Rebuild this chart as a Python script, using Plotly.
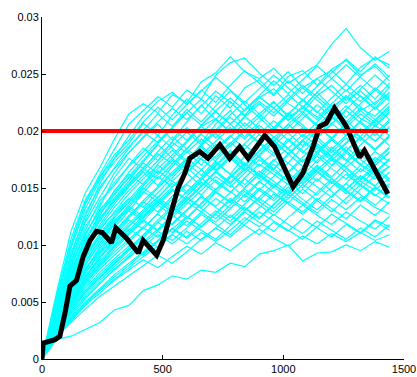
import plotly.graph_objects as go

# x grid of the simulated runs (cyan)
run_x = [0, 60, 120, 180, 240, 300, 360, 420, 480, 540, 600, 660, 720, 780, 840,
         900, 960, 1020, 1080, 1140, 1200, 1260, 1320, 1380, 1440]

# cyan runs, values in thousandths (x 1e-3)
run_01 = [0, 5.8, 11.2, 14.6, 16.8, 19.3, 21.5, 22.4, 21.6, 23.2, 22.5, 24.3, 25.1, 26.5, 25.2, 24.6, 25.5, 24.2, 25.0, 25.8, 27.6, 29.0, 27.3, 26.2, 27.0]
run_02 = [0, 5.2, 10.1, 13.8, 16.2, 18.4, 20.6, 21.8, 23.0, 22.1, 23.6, 22.8, 24.9, 26.0, 26.4, 25.1, 24.0, 25.2, 23.8, 24.6, 25.3, 24.1, 25.6, 26.4, 25.8]
run_03 = [0, 4.6, 9.3, 12.5, 15.4, 17.6, 18.9, 20.7, 19.6, 21.4, 22.8, 21.5, 23.1, 22.0, 23.8, 24.5, 23.2, 24.8, 25.3, 24.0, 25.4, 26.2, 24.9, 25.7, 24.4]
run_04 = [0, 4.9, 8.6, 12.0, 14.2, 16.3, 18.1, 19.4, 20.6, 19.2, 20.8, 22.3, 21.0, 22.6, 21.3, 22.9, 23.7, 22.4, 21.6, 23.1, 24.0, 22.7, 23.5, 22.3, 23.9]
run_05 = [0, 4.2, 8.0, 11.3, 13.9, 15.2, 17.0, 18.5, 17.4, 19.1, 20.3, 19.0, 20.6, 21.8, 20.4, 21.5, 22.6, 21.2, 22.0, 23.4, 22.1, 23.0, 21.8, 22.5, 23.3]
run_06 = [0, 3.8, 7.4, 10.6, 12.6, 14.8, 16.2, 15.3, 17.1, 18.3, 17.2, 18.9, 19.8, 18.6, 20.1, 21.2, 20.0, 21.4, 20.3, 19.5, 21.0, 22.2, 21.1, 20.4, 21.6]
run_07 = [0, 4.4, 7.9, 10.2, 12.9, 14.1, 15.6, 17.3, 18.8, 17.6, 19.0, 20.4, 21.1, 19.9, 21.3, 20.2, 19.1, 20.6, 21.7, 20.5, 19.3, 20.8, 22.0, 21.3, 22.5]
run_08 = [0, 3.5, 6.9, 9.4, 11.8, 13.6, 15.1, 16.4, 15.2, 16.9, 18.2, 17.0, 18.5, 19.6, 18.4, 19.7, 20.9, 19.8, 18.7, 20.1, 21.3, 20.0, 19.2, 20.5, 19.6]
run_09 = [0, 3.9, 7.1, 9.8, 11.3, 12.9, 14.5, 15.8, 17.0, 16.1, 17.5, 18.6, 17.3, 16.2, 17.8, 19.0, 18.1, 17.2, 18.6, 19.5, 18.3, 17.4, 18.8, 19.9, 18.7]
run_10 = [0, 3.2, 6.4, 8.8, 10.9, 12.4, 13.7, 15.0, 14.1, 15.6, 16.8, 15.7, 17.0, 18.3, 17.1, 16.0, 17.4, 18.5, 17.3, 18.7, 17.6, 16.8, 17.9, 17.0, 18.1]
run_11 = [0, 3.6, 6.1, 8.3, 10.1, 11.8, 13.2, 12.3, 13.9, 15.1, 16.3, 15.2, 16.5, 17.7, 16.6, 17.9, 19.2, 18.0, 16.9, 18.2, 19.4, 18.3, 17.1, 16.3, 17.5]
run_12 = [0, 2.9, 5.7, 7.9, 9.7, 11.2, 12.6, 13.8, 12.9, 14.3, 15.4, 16.6, 15.5, 14.6, 15.9, 17.1, 16.2, 15.3, 16.6, 17.8, 16.7, 15.8, 17.0, 16.1, 16.9]
run_13 = [0, 3.3, 5.9, 7.6, 9.2, 10.6, 11.9, 13.1, 14.2, 13.3, 14.7, 15.9, 14.8, 16.0, 17.2, 16.1, 15.0, 16.3, 17.5, 16.4, 15.4, 16.7, 15.6, 14.8, 15.9]
run_14 = [0, 2.7, 5.2, 7.3, 8.9, 10.2, 11.4, 10.6, 12.0, 13.2, 12.3, 13.6, 14.7, 13.8, 15.0, 16.2, 15.1, 14.1, 15.3, 16.5, 15.5, 14.5, 15.7, 16.8, 15.8]
run_15 = [0, 3.0, 5.5, 7.0, 8.4, 9.8, 11.0, 12.2, 11.3, 12.6, 13.8, 12.9, 14.1, 13.2, 14.4, 15.6, 14.6, 13.7, 14.9, 13.9, 15.1, 16.2, 15.2, 14.3, 15.4]
run_16 = [0, 2.5, 4.8, 6.7, 8.1, 9.4, 10.5, 11.6, 12.7, 11.8, 13.0, 14.2, 13.3, 12.4, 13.6, 14.8, 13.9, 15.1, 14.0, 13.1, 14.3, 15.4, 14.4, 13.5, 14.6]
run_17 = [0, 2.2, 4.5, 6.2, 7.6, 8.8, 9.9, 9.1, 10.4, 11.5, 10.7, 11.9, 13.0, 12.1, 13.3, 12.4, 13.6, 14.7, 13.7, 12.8, 14.0, 13.1, 14.2, 13.3, 12.7]
run_18 = [0, 2.6, 4.2, 5.8, 7.1, 8.3, 9.5, 10.6, 9.8, 11.0, 12.1, 11.3, 10.5, 11.7, 12.9, 12.0, 11.2, 12.4, 13.5, 12.6, 11.8, 12.9, 12.1, 11.4, 12.5]
run_19 = [0, 2.0, 3.9, 5.4, 6.7, 7.8, 8.9, 9.9, 10.9, 10.1, 11.2, 10.4, 11.5, 12.6, 11.7, 10.9, 12.0, 11.2, 12.3, 11.5, 10.7, 11.8, 11.0, 12.1, 11.3]
run_20 = [0, 1.8, 3.4, 4.7, 5.8, 6.9, 7.8, 8.7, 8.0, 9.0, 9.9, 9.2, 10.2, 9.5, 10.5, 11.4, 10.6, 9.9, 10.8, 10.1, 11.0, 10.3, 11.1, 10.4, 10.9]
run_21 = [0, 1.7, 2.0, 2.6, 3.2, 4.3, 4.7, 6.0, 6.5, 7.3, 7.0, 7.8, 7.6, 8.4, 8.1, 9.2, 9.5, 10.0, 8.6, 9.3, 9.4, 10.0, 9.5, 10.3, 9.8]
run_22 = [0, 4.0, 7.7, 10.8, 13.4, 15.9, 17.6, 16.7, 18.2, 19.5, 18.4, 19.8, 21.0, 19.9, 21.2, 22.4, 21.3, 22.6, 23.8, 22.7, 21.6, 22.9, 24.0, 22.8, 24.2]
run_23 = [0, 3.4, 6.6, 9.1, 10.8, 12.2, 13.0, 14.6, 16.0, 15.1, 16.4, 17.6, 18.8, 17.7, 18.9, 20.1, 19.0, 20.3, 21.5, 20.4, 21.7, 20.6, 19.5, 20.9, 22.1]
run_24 = [0, 2.8, 5.0, 6.9, 8.6, 10.0, 11.1, 12.4, 13.5, 14.8, 13.9, 15.2, 16.4, 17.6, 16.5, 17.8, 16.7, 18.0, 19.2, 18.1, 17.0, 18.3, 19.5, 18.4, 19.6]
run_25 = [0, 2.4, 4.6, 6.4, 7.9, 9.1, 10.3, 11.5, 10.7, 11.9, 13.1, 14.3, 13.4, 14.6, 15.8, 14.8, 16.0, 17.2, 16.1, 17.4, 18.6, 17.5, 16.4, 17.7, 16.8]
run_26 = [0, 2.1, 4.0, 5.6, 6.9, 8.1, 9.2, 10.3, 11.4, 12.6, 11.7, 12.9, 12.0, 13.2, 14.4, 13.5, 12.6, 13.8, 12.9, 14.1, 13.2, 12.3, 13.5, 12.6, 13.8]
run_27 = [0, 4.7, 8.9, 12.2, 14.9, 16.8, 18.5, 20.1, 21.5, 20.4, 21.9, 20.8, 22.2, 23.5, 22.3, 21.2, 22.5, 21.4, 22.8, 21.7, 20.6, 21.9, 23.1, 22.0, 23.4]
run_28 = [0, 3.1, 6.0, 8.5, 10.4, 12.0, 13.5, 14.9, 16.2, 17.4, 16.3, 17.6, 16.5, 15.5, 16.8, 15.8, 17.1, 16.0, 15.0, 16.3, 17.5, 16.4, 15.3, 16.6, 15.6]
run_29 = [0, 2.3, 4.4, 6.0, 7.4, 8.6, 9.6, 10.8, 12.0, 11.1, 12.4, 13.7, 14.9, 16.1, 15.0, 16.3, 17.5, 16.4, 17.7, 18.9, 17.8, 19.0, 20.2, 19.1, 20.4]
run_30 = [0, 3.7, 7.0, 9.6, 11.6, 13.3, 14.8, 16.1, 17.4, 18.7, 19.9, 18.8, 20.1, 21.4, 22.6, 21.5, 20.3, 21.6, 20.5, 19.4, 20.7, 19.6, 20.9, 22.1, 21.0]
run_31 = [0, 2.9, 5.4, 7.5, 9.3, 10.8, 12.2, 11.4, 12.8, 14.0, 15.3, 14.4, 15.7, 14.7, 13.8, 15.0, 14.1, 15.4, 16.6, 15.6, 16.9, 18.1, 17.0, 18.2, 17.3]
run_32 = [0, 4.3, 8.3, 11.0, 13.1, 14.5, 16.0, 17.5, 18.9, 20.2, 19.2, 20.5, 21.7, 20.6, 19.5, 20.8, 22.0, 23.2, 22.1, 23.4, 24.6, 23.5, 24.8, 25.9, 24.7]
run_33 = [0, 1.9, 3.6, 5.0, 6.2, 7.4, 8.4, 9.4, 10.4, 11.4, 10.6, 11.6, 12.7, 11.8, 13.0, 14.1, 13.2, 14.4, 13.5, 14.6, 15.8, 14.8, 13.9, 15.1, 14.2]
run_34 = [0, 2.0, 3.2, 4.4, 5.5, 6.4, 7.3, 8.2, 9.1, 8.4, 9.4, 10.5, 11.5, 10.7, 11.8, 12.9, 12.1, 11.3, 10.5, 11.6, 12.7, 11.9, 11.1, 12.2, 11.6]
run_35 = [0, 5.5, 10.5, 14.0, 16.0, 17.9, 19.2, 20.8, 22.1, 21.0, 22.3, 23.6, 22.5, 24.0, 25.3, 24.2, 23.1, 24.4, 23.3, 24.6, 23.5, 22.4, 23.7, 24.9, 23.8]
run_36 = [0, 3.6, 6.8, 9.5, 11.5, 12.8, 14.1, 13.3, 14.6, 15.9, 17.2, 16.1, 17.4, 18.7, 20.0, 18.9, 17.8, 19.1, 20.3, 19.2, 18.1, 19.4, 18.3, 17.2, 18.5]
run_37 = [0, 4.1, 7.2, 9.9, 12.3, 14.0, 15.4, 16.8, 18.0, 17.1, 18.5, 19.7, 18.6, 17.5, 18.8, 17.7, 16.6, 17.9, 19.1, 18.0, 19.3, 20.5, 19.4, 18.3, 19.5]
run_38 = [0, 3.3, 6.2, 8.0, 9.5, 11.0, 12.4, 13.7, 15.0, 16.2, 17.5, 18.7, 17.6, 18.9, 20.1, 19.0, 20.3, 19.2, 18.1, 19.4, 20.6, 21.8, 20.7, 19.6, 20.8]
run_39 = [0, 2.7, 5.3, 7.7, 9.9, 11.5, 13.0, 12.1, 13.5, 12.6, 13.9, 15.1, 16.4, 15.3, 14.2, 15.5, 16.7, 15.6, 14.5, 15.8, 14.7, 13.6, 14.9, 16.1, 15.0]
run_40 = [0, 4.6, 8.4, 11.6, 13.6, 15.5, 16.9, 18.2, 19.6, 18.5, 17.4, 18.7, 19.9, 21.2, 20.1, 19.0, 20.2, 21.5, 22.7, 21.6, 22.9, 24.1, 23.0, 21.9, 23.1]
run_41 = [0, 2.2, 4.2, 5.9, 7.2, 8.4, 9.7, 10.9, 12.2, 13.4, 12.5, 11.6, 12.8, 14.1, 13.2, 12.3, 13.5, 14.8, 16.0, 15.1, 14.2, 15.4, 16.7, 15.8, 16.9]
run_42 = [0, 3.0, 5.8, 8.2, 10.2, 11.9, 13.3, 14.7, 13.8, 12.9, 14.2, 13.3, 14.6, 15.9, 17.1, 16.2, 15.3, 14.4, 15.6, 16.9, 15.8, 14.9, 16.1, 15.2, 16.4]
run_43 = [0, 5.0, 9.7, 13.2, 15.7, 17.3, 18.6, 19.9, 19.0, 20.3, 21.6, 22.8, 21.7, 20.6, 21.9, 23.1, 24.4, 23.3, 24.5, 25.7, 24.6, 25.8, 24.7, 23.6, 24.9]
run_44 = [0, 1.9, 3.7, 5.3, 6.6, 7.9, 9.0, 10.1, 11.2, 10.4, 11.5, 12.7, 11.8, 10.9, 12.1, 13.3, 14.5, 13.6, 12.7, 13.9, 12.9, 14.1, 15.3, 14.4, 13.6]
run_45 = [0, 3.8, 7.3, 10.0, 12.1, 13.9, 15.3, 16.7, 15.8, 17.1, 18.4, 17.5, 16.6, 17.8, 16.9, 18.2, 19.4, 20.6, 19.5, 20.8, 22.0, 20.9, 19.8, 21.0, 19.9]
run_46 = [0, 2.5, 5.0, 7.1, 8.8, 10.5, 11.7, 12.9, 14.2, 15.4, 14.5, 15.7, 16.9, 18.1, 17.0, 18.3, 19.5, 18.4, 17.3, 18.5, 17.4, 18.6, 17.5, 16.4, 17.6]
run_47 = [0, 4.4, 8.1, 11.0, 13.0, 14.7, 16.4, 17.8, 19.1, 20.3, 21.6, 20.5, 21.8, 22.9, 21.8, 23.0, 22.0, 20.9, 22.1, 21.0, 22.3, 21.2, 22.4, 23.6, 22.6]
run_48 = [0, 2.3, 4.7, 6.6, 8.2, 9.6, 10.9, 12.1, 11.2, 12.4, 13.6, 14.8, 16.0, 15.1, 16.3, 17.5, 16.5, 15.6, 16.8, 18.0, 19.2, 18.2, 19.4, 18.4, 19.6]
run_49 = [0, 3.5, 6.5, 8.9, 10.7, 12.4, 13.8, 15.2, 16.5, 15.6, 14.7, 15.9, 17.2, 16.2, 15.3, 16.5, 15.6, 14.6, 15.8, 17.0, 16.0, 17.2, 18.4, 17.4, 18.6]
run_50 = [0, 4.8, 9.0, 12.8, 15.1, 16.7, 18.1, 19.5, 20.8, 22.0, 21.0, 22.2, 23.5, 22.5, 21.4, 22.6, 21.6, 22.8, 24.0, 23.0, 21.9, 23.1, 22.1, 21.0, 22.2]
run_51 = [0, 2.8, 5.5, 7.8, 9.5, 11.1, 12.5, 13.9, 15.1, 16.4, 17.6, 16.6, 17.8, 19.0, 18.0, 16.9, 18.1, 19.3, 18.3, 17.2, 18.4, 19.6, 20.8, 19.8, 21.0]
run_52 = [0, 1.8, 3.5, 4.9, 6.1, 7.2, 8.2, 9.3, 10.3, 11.4, 12.5, 11.6, 12.8, 13.9, 13.0, 14.2, 15.3, 14.4, 15.6, 16.7, 15.8, 14.9, 16.0, 15.1, 14.2]
run_53 = [0, 3.9, 7.5, 10.3, 12.7, 14.4, 15.9, 17.2, 16.3, 17.6, 16.6, 17.9, 19.1, 20.3, 19.3, 20.5, 19.5, 18.5, 19.7, 18.7, 17.7, 18.9, 20.1, 19.1, 20.3]
run_54 = [0, 2.6, 5.1, 7.2, 9.0, 10.4, 11.6, 12.8, 14.0, 13.1, 14.3, 15.5, 14.6, 13.7, 14.9, 13.9, 15.1, 16.3, 15.4, 16.6, 17.7, 16.8, 15.8, 17.0, 18.2]
run_55 = [0, 5.3, 9.9, 13.6, 15.9, 17.6, 19.6, 21.3, 22.6, 23.4, 22.3, 23.5, 24.7, 23.6, 22.5, 23.7, 24.9, 23.8, 22.7, 23.9, 25.1, 26.3, 25.2, 26.5, 25.5]
run_56 = [0, 3.2, 6.3, 8.6, 10.5, 12.1, 13.4, 12.5, 13.7, 14.9, 14.0, 15.2, 16.4, 15.4, 16.6, 17.8, 19.0, 18.0, 19.2, 20.4, 19.4, 20.6, 21.8, 20.7, 21.9]
run_57 = [0, 2.1, 3.3, 4.8, 6.0, 7.0, 8.0, 9.0, 9.9, 10.9, 10.1, 11.1, 10.3, 11.3, 12.4, 11.6, 12.7, 11.8, 11.0, 12.1, 11.3, 10.5, 11.5, 10.7, 11.8]
run_58 = [0, 4.0, 7.8, 10.4, 12.4, 13.8, 15.2, 16.5, 17.8, 19.0, 18.1, 19.3, 18.3, 19.5, 20.7, 19.7, 18.7, 19.9, 21.1, 22.3, 21.3, 20.3, 21.5, 20.5, 21.7]
run_59 = [0, 2.4, 4.9, 6.8, 8.4, 9.9, 11.3, 12.6, 13.8, 12.9, 14.1, 13.2, 12.3, 13.5, 14.7, 13.8, 12.9, 14.1, 15.3, 14.4, 15.6, 14.7, 13.8, 15.0, 14.1]
run_60 = [0, 3.6, 6.9, 9.2, 11.0, 12.6, 14.0, 15.4, 16.7, 17.9, 19.1, 20.4, 19.4, 20.6, 21.8, 23.0, 22.0, 21.0, 22.2, 21.2, 22.4, 23.6, 22.6, 23.8, 22.8]

runs = [run_01, run_02, run_03, run_04, run_05, run_06, run_07, run_08, run_09,
        run_10, run_11, run_12, run_13, run_14, run_15, run_16, run_17, run_18,
        run_19, run_20, run_21, run_22, run_23, run_24, run_25, run_26, run_27,
        run_28, run_29, run_30, run_31, run_32, run_33, run_34, run_35, run_36,
        run_37, run_38, run_39, run_40, run_41, run_42, run_43, run_44, run_45,
        run_46, run_47, run_48, run_49, run_50, run_51, run_52, run_53, run_54,
        run_55, run_56, run_57, run_58, run_59, run_60]

# black highlighted run
black_x = [0, 5, 54, 74, 95, 116, 143, 171, 199, 226, 250, 288, 306, 350, 399, 419,
           475, 502, 530, 564, 592, 612, 654, 688, 737, 778, 819, 854, 888, 923,
           964, 1040, 1081, 1123, 1150, 1178, 1212, 1261, 1316, 1336, 1433]
black_y = [0, 0.0014, 0.0017, 0.002, 0.004, 0.0064, 0.0069, 0.009, 0.0104, 0.0112,
           0.0111, 0.0102, 0.0115, 0.0106, 0.0093, 0.0104, 0.0091, 0.0104, 0.0125,
           0.015, 0.0163, 0.0176, 0.0182, 0.0176, 0.0188, 0.0176, 0.0186, 0.0176,
           0.0186, 0.0196, 0.0186, 0.0151, 0.0163, 0.0186, 0.0204, 0.0207, 0.022,
           0.0204, 0.0177, 0.0183, 0.0145]

# red threshold line
red_x = [0, 1433]
red_y = [0.02, 0.02]

x_ticks = [0, 500, 1000, 1500]
x_ticktext = ["0", "500", "1000", "1500"]
y_ticks = [0, 0.005, 0.01, 0.015, 0.02, 0.025, 0.03]
y_ticktext = ["0", "0.005", "0.01", "0.015", "0.02", "0.025", "0.03"]

fig = go.Figure()
for r in runs:
    fig.add_trace(go.Scatter(x=run_x, y=[v * 1e-3 for v in r], mode="lines",
                             line=dict(color="#00FFFF", width=1.2), showlegend=False,
                             hoverinfo="skip"))
fig.add_trace(go.Scatter(x=black_x, y=black_y, mode="lines",
                         line=dict(color="black", width=5), showlegend=False))
fig.add_trace(go.Scatter(x=red_x, y=red_y, mode="lines",
                         line=dict(color="#FF0000", width=4), showlegend=False))

fig.update_layout(
    width=417, height=377,
    margin=dict(l=42, r=12.5, t=16.7, b=17.7, autoexpand=False),
    paper_bgcolor="white", plot_bgcolor="white",
    font=dict(family="Liberation Sans, Arial, sans-serif", size=11, color="black"),
    showlegend=False,
)
fig.update_xaxes(range=[0, 1500], tickvals=x_ticks, ticktext=x_ticktext,
                 showgrid=False, zeroline=False, showline=True, linecolor="black",
                 linewidth=1, ticks="inside", ticklen=4, tickcolor="black",
                 automargin=False, ticklabeloverflow="allow")
fig.update_yaxes(range=[0, 0.03], tickvals=y_ticks, ticktext=y_ticktext,
                 showgrid=False, zeroline=False, showline=True, linecolor="black",
                 linewidth=1, ticks="inside", ticklen=4, tickcolor="black",
                 automargin=False, ticklabeloverflow="allow")

# remove the default page margin so the 417x377 figure fills the window exactly
fig.write_html("out.html",
               config={"displayModeBar": False, "staticPlot": True},
               post_script="document.body.style.margin='0';"
                           "document.body.style.overflow='hidden';")
